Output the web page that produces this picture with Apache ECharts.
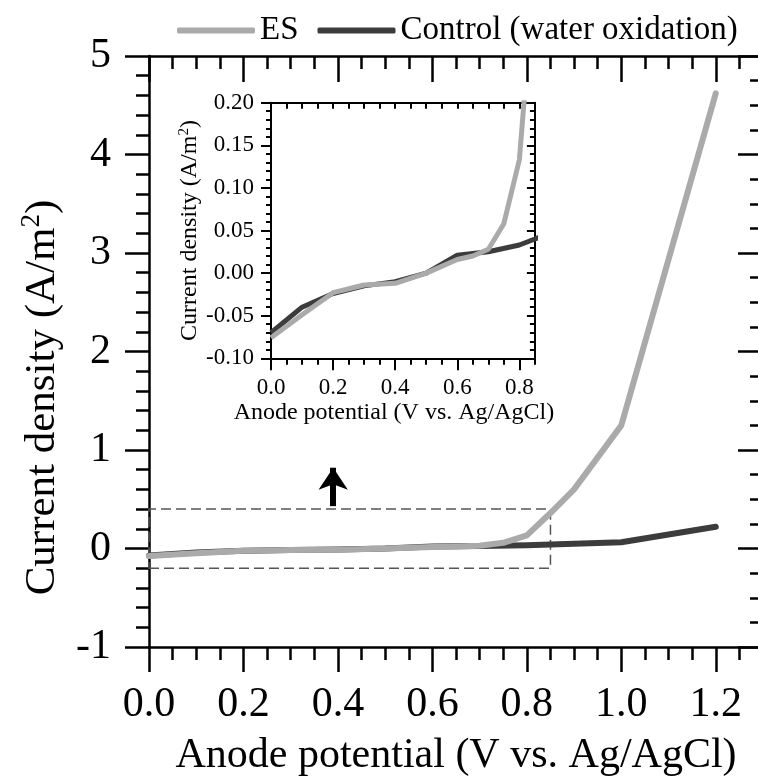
<!DOCTYPE html>
<html>
<head>
<meta charset="utf-8">
<script src="https://cdn.jsdelivr.net/npm/echarts@6/dist/echarts.min.js"></script>
<style>html,body{margin:0;padding:0;background:#fff}#c{width:758px;height:780px}</style>
</head>
<body>
<div id="c"></div>
<script>
// ---- data ----
const esX = [0, 0.1, 0.2, 0.3, 0.4, 0.5, 0.6, 0.65, 0.7, 0.75, 0.8, 0.85, 0.9, 1.0, 1.2];
const esY = [-0.076, -0.049, -0.023, -0.014, -0.012, 0.000, 0.016, 0.020, 0.028, 0.058, 0.133, 0.36, 0.60, 1.25, 4.62];
const ctrlX = [0, 0.1, 0.2, 0.3, 0.4, 0.5, 0.6, 0.7, 0.8, 0.85, 1.0, 1.2];
const ctrlY = [-0.070, -0.040, -0.024, -0.015, -0.010, 0.000, 0.021, 0.025, 0.033, 0.040, 0.063, 0.22];
const seriesNames = ['ES', 'Control (water oxidation)'];
const mainXTicks = [0.0, 0.2, 0.4, 0.6, 0.8, 1.0, 1.2];
const mainYTicks = [-1, 0, 1, 2, 3, 4, 5];
const insetXTicks = [0.0, 0.2, 0.4, 0.6, 0.8];
const insetYTicks = [-0.10, -0.05, 0.00, 0.05, 0.10, 0.15, 0.20];
const zoomBoxX = [0, 0.85];
const zoomBoxY = [-0.2, 0.4];
const arrowX = 0.39;
const arrowY = [0.43, 0.82];

const FONT = "'Liberation Serif', 'Times New Roman', serif";
const esColor = '#aaaaaa';
const ctrlColor = '#3c3c3c';
const pair = (xs, ys) => xs.map((x, i) => [x, ys[i]]);

function has(list, v) { return list.some(t => Math.abs(t - v) < 1e-9); }

const chart = echarts.init(document.getElementById('c'), null, {renderer: 'canvas'});

const lineBlack = {show: true, onZero: false, lineStyle: {color: '#000', width: 2.5}};
const noLine = {show: false, onZero: false};

const option = {
  animation: false,
  backgroundColor: '#fff',
  legend: {
    data: seriesNames,
    left: 177, top: 14, padding: 0,
    icon: 'roundRect',
    itemWidth: 78, itemHeight: 6, itemGap: 19,
    textStyle: {fontFamily: FONT, fontSize: 33, color: '#000'}
  },
  grid: [
    {left: 149, top: 56, width: 614, height: 591, outerBoundsMode: 'none', containLabel: false},
    {left: 271, top: 102.7, width: 263.9, height: 255.6, outerBoundsMode: 'none', containLabel: false}
  ],
  xAxis: [
    { // main bottom major
      type: 'value', gridIndex: 0, position: 'bottom', min: 0, max: 1.3, interval: 0.2,
      axisLine: lineBlack,
      axisTick: {show: true, length: 25, inside: false, lineStyle: {color: '#000', width: 2.5}},
      axisLabel: {show: true, margin: 37, fontFamily: FONT, fontSize: 42, color: '#000',
        showMaxLabel: false,
        formatter: v => has(mainXTicks, v) ? v.toFixed(1) : ''},
      splitLine: {show: false},
      name: 'Anode potential (V vs. Ag/AgCl)', nameLocation: 'middle', nameGap: 88,
      nameTextStyle: {fontFamily: FONT, fontSize: 42, color: '#000'}
    },
    { // main bottom minor
      type: 'value', gridIndex: 0, position: 'bottom', min: 0, max: 1.3, interval: 0.05,
      axisLine: noLine,
      axisTick: {show: true, length: 13, lineStyle: {color: '#000', width: 2.5}},
      axisLabel: {show: false}, splitLine: {show: false}
    },
    { // main top major
      type: 'value', gridIndex: 0, position: 'top', min: 0, max: 1.3, interval: 0.2,
      axisLine: lineBlack,
      axisTick: {show: true, length: 26, inside: true, lineStyle: {color: '#000', width: 2.5}},
      axisLabel: {show: false}, splitLine: {show: false}
    },
    { // main top minor
      type: 'value', gridIndex: 0, position: 'top', min: 0, max: 1.3, interval: 0.05,
      axisLine: noLine,
      axisTick: {show: true, length: 13, inside: true, lineStyle: {color: '#000', width: 2.5}},
      axisLabel: {show: false}, splitLine: {show: false}
    },
    { // inset bottom major
      type: 'value', gridIndex: 1, position: 'bottom', min: 0, max: 0.85, interval: 0.2,
      axisLine: {show: true, onZero: false, lineStyle: {color: '#000', width: 2}},
      axisTick: {show: true, length: 12, lineStyle: {color: '#000', width: 2}},
      axisLabel: {show: true, margin: 18, fontFamily: FONT, fontSize: 23, color: '#000',
        showMaxLabel: false,
        formatter: v => has(insetXTicks, v) ? v.toFixed(1) : ''},
      splitLine: {show: false},
      name: 'Anode potential (V vs. Ag/AgCl)', nameLocation: 'middle', nameGap: 42,
      nameTextStyle: {fontFamily: FONT, fontSize: 24, color: '#000', padding: [0, 18, 0, 0]}
    },
    { // inset bottom minor
      type: 'value', gridIndex: 1, position: 'bottom', min: 0, max: 0.85, interval: 0.05,
      axisLine: noLine,
      axisTick: {show: true, length: 6.5, lineStyle: {color: '#000', width: 2}},
      axisLabel: {show: false}, splitLine: {show: false}
    },
    { // inset top
      type: 'value', gridIndex: 1, position: 'top', min: 0, max: 0.85, interval: 0.05,
      axisLine: {show: true, onZero: false, lineStyle: {color: '#000', width: 2}},
      axisTick: {show: true, length: 6, inside: true, lineStyle: {color: '#000', width: 2}},
      axisLabel: {show: false}, splitLine: {show: false}
    }
  ],
  yAxis: [
    { // main left
      type: 'value', gridIndex: 0, position: 'left', min: -1, max: 5, interval: 1,
      axisLine: lineBlack,
      axisTick: {show: true, length: 24, lineStyle: {color: '#000', width: 2.5}},
      minorTick: {show: true, splitNumber: 5, length: 13, lineStyle: {color: '#000', width: 2.5}},
      axisLabel: {show: true, margin: 38, fontFamily: FONT, fontSize: 42, color: '#000',
        formatter: v => has(mainYTicks, v) ? String(v) : ''},
      splitLine: {show: false}, minorSplitLine: {show: false},
      name: '{n|Current density (A/m}{s|2}{n|)}', nameLocation: 'middle', nameGap: 82,
      nameTextStyle: {fontFamily: FONT, fontSize: 43, color: '#000', padding: [0, 92, 0, 0],
        rich: {
          n: {fontFamily: FONT, fontSize: 43, color: '#000'},
          s: {fontFamily: FONT, fontSize: 27, color: '#000', padding: [0, 0, 22, 0]}
        }}
    },
    { // main right
      type: 'value', gridIndex: 0, position: 'right', min: -1, max: 5, interval: 1,
      axisLine: lineBlack,
      axisTick: {show: true, length: 25, inside: true, lineStyle: {color: '#000', width: 2.5}},
      minorTick: {show: true, splitNumber: 4, length: 13, lineStyle: {color: '#000', width: 2.5}},
      axisLabel: {show: false}, splitLine: {show: false}
    },
    { // inset left
      type: 'value', gridIndex: 1, position: 'left', min: -0.1, max: 0.2, interval: 0.05,
      axisLine: {show: true, onZero: false, lineStyle: {color: '#000', width: 2}},
      axisTick: {show: true, length: 10, lineStyle: {color: '#000', width: 2}},
      minorTick: {show: true, splitNumber: 5, length: 5, lineStyle: {color: '#000', width: 2}},
      axisLabel: {show: true, margin: 17, fontFamily: FONT, fontSize: 23, color: '#000',
        formatter: v => has(insetYTicks, v) ? v.toFixed(2) : ''},
      splitLine: {show: false}, minorSplitLine: {show: false},
      name: '{n|Current density (A/m}{s|2}{n|)}', nameLocation: 'middle', nameGap: 54,
      nameTextStyle: {fontFamily: FONT, fontSize: 24, color: '#000',
        rich: {
          n: {fontFamily: FONT, fontSize: 24, color: '#000'},
          s: {fontFamily: FONT, fontSize: 15, color: '#000', padding: [0, 0, 12, 0]}
        }}
    },
    { // inset right
      type: 'value', gridIndex: 1, position: 'right', min: -0.1, max: 0.2, interval: 0.05,
      axisLine: {show: true, onZero: false, lineStyle: {color: '#000', width: 2}},
      axisTick: {show: true, length: 8, inside: true, lineStyle: {color: '#000', width: 2}},
      minorTick: {show: true, splitNumber: 5, length: 5, lineStyle: {color: '#000', width: 2}},
      axisLabel: {show: false}, splitLine: {show: false}
    }
  ],
  series: [
    {
      name: seriesNames[1], type: 'line', xAxisIndex: 0, yAxisIndex: 0,
      data: pair(ctrlX, ctrlY), showSymbol: false, symbol: 'none', silent: true,
      lineStyle: {color: ctrlColor, width: 6, cap: 'round', join: 'round'},
      itemStyle: {color: ctrlColor}
    },
    {
      name: seriesNames[0], type: 'line', xAxisIndex: 0, yAxisIndex: 0,
      data: pair(esX, esY), showSymbol: false, symbol: 'none', silent: true,
      lineStyle: {color: esColor, width: 6, cap: 'round', join: 'round'},
      itemStyle: {color: esColor},
      markArea: {
        silent: true,
        itemStyle: {color: 'rgba(0,0,0,0)', borderColor: '#555', borderWidth: 1.5, borderType: [10, 5]},
        label: {show: false},
        data: [[{coord: [zoomBoxX[0], zoomBoxY[0]]}, {coord: [zoomBoxX[1], zoomBoxY[1]]}]]
      },
      markLine: {
        silent: true, symbol: ['none', 'arrow'], symbolSize: 22,
        label: {show: false},
        lineStyle: {color: '#000', width: 6, type: 'solid'},
        emphasis: {disabled: true},
        data: [[{coord: [arrowX, arrowY[0]]}, {coord: [arrowX, arrowY[1]]}]]
      }
    },
    {
      name: seriesNames[1], type: 'line', xAxisIndex: 4, yAxisIndex: 2,
      data: pair(ctrlX, ctrlY), showSymbol: false, symbol: 'none', silent: true, clip: true,
      lineStyle: {color: ctrlColor, width: 5, join: 'round'},
      itemStyle: {color: ctrlColor}
    },
    {
      name: seriesNames[0], type: 'line', xAxisIndex: 4, yAxisIndex: 2,
      data: pair(esX, esY), showSymbol: false, symbol: 'none', silent: true, clip: true,
      lineStyle: {color: esColor, width: 5, join: 'round'},
      itemStyle: {color: esColor}
    }
  ]
};
chart.setOption(option);
</script>
</body>
</html>
